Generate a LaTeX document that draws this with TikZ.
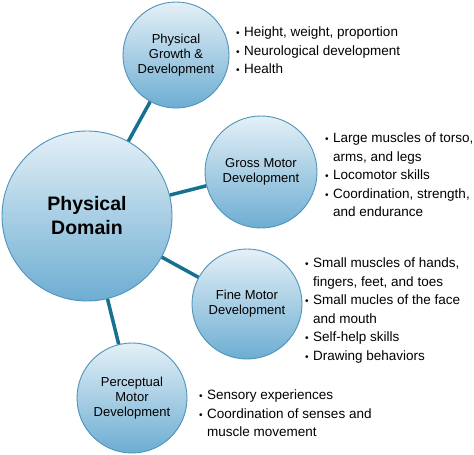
\documentclass[tikz,border=0pt]{standalone}
\usepackage{fontspec}
\setmainfont{Liberation Sans}
\definecolor{rimblue}{HTML}{4F93B8}
\definecolor{linkteal}{HTML}{16708F}
\definecolor{toplight}{HTML}{E4F0F7}
\definecolor{midlight}{HTML}{C4DEEE}
\definecolor{botblue}{HTML}{6DADD2}
\newcommand{\bitem}{\makebox[8pt][l]{\scalebox{0.75}{\textbullet}}}
\newcommand{\bcont}{\hspace*{8pt}}
\tikzset{
  topic/.style={circle, draw=rimblue, line width=0.9pt, top color=toplight,
    middle color=midlight, bottom color=botblue, align=center, inner sep=0pt,
    font=\fontsize{13}{15}\selectfont},
  link/.style={linkteal, line width=3.5pt},
  points/.style={anchor=north west, inner sep=0pt, align=left,
    font=\fontsize{13.5}{18.5}\selectfont}
}

\begin{document}
\begin{tikzpicture}[x=1pt, y=-1pt]
    \useasboundingbox (0,0) rectangle (474,455);

    % circles
    \node[topic, minimum size=170pt, font=\bfseries\fontsize{19.5}{24}\selectfont] (domain) at (87,216) {Physical\\Domain};
    \node[topic, minimum size=106pt] (growth) at (176,55) {Physical\\Growth \&\\Development};
    \node[topic, minimum size=112pt] (gross) at (261,172) {Gross Motor\\Development};
    \node[topic, minimum size=110pt] (fine) at (247,304) {Fine Motor\\Development};
    \node[topic, minimum size=110pt] (percep) at (132,398) {Perceptual\\Motor\\Development};

    % links
    \draw[link] (domain) -- (growth);
    \draw[link] (domain) -- (gross);
    \draw[link] (domain) -- (fine);
    \draw[link] (domain) -- (percep);

    % bullet lists
    \node[points] (growthlist) at (236,27) {\bitem Height, weight, proportion\\
        \bitem Neurological development\\
        \bitem Health};
    \node[points] (grosslist) at (325,133) {\bitem Large muscles of torso,\\
        \bcont arms, and legs\\
        \bitem Locomotor skills\\
        \bitem Coordination, strength,\\
        \bcont and endurance};
    \node[points] (finelist) at (305,258) {\bitem Small muscles of hands,\\
        \bcont fingers, feet, and toes\\
        \bitem Small mucles of the face\\
        \bcont and mouth\\
        \bitem Self-help skills\\
        \bitem Drawing behaviors};
    \node[points] (perceplist) at (199,390) {\bitem Sensory experiences\\
        \bitem Coordination of senses and\\
        \bcont muscle movement};
\end{tikzpicture}
\end{document}
